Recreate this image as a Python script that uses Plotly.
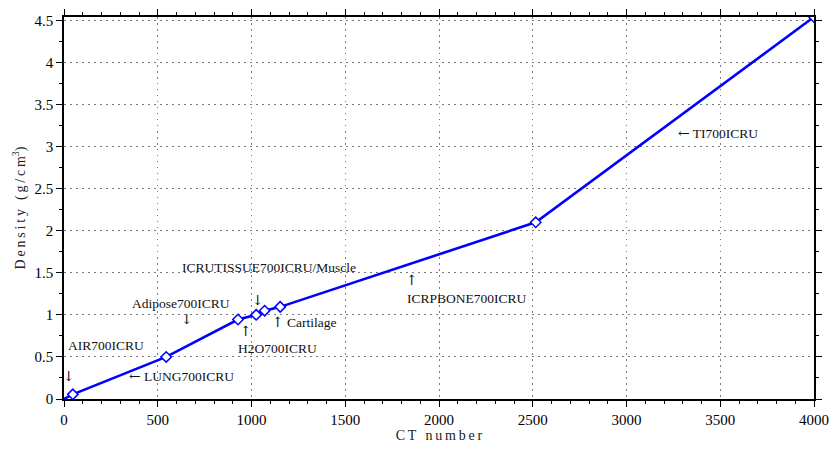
import plotly.graph_objects as go

# Calibration curve: CT number -> density (g/cm3)
ct_number = [0, 47, 545, 928, 1025, 1070, 1153, 2516, 4000]
density = [0.0012, 0.055, 0.50, 0.945, 1.00, 1.05, 1.095, 2.10, 4.54]
marker_ct = ct_number[1:]
marker_density = density[1:]

# Text labels: (arrow prefix, text, CT anchor, density anchor, x-anchor)
label_arrow = ["", "\u2193", "\u2190", "", "\u2193", "", "\u2193", "\u2191", "",
               "\u2191", "\u2191", "", "\u2190"]
label_text = ["AIR700ICRU", "", "LUNG700ICRU", "Adipose700ICRU", "",
              "ICRUTISSUE700ICRU/Muscle", "", "", "H2O700ICRU",
              "Cartilage", "", "ICRPBONE700ICRU", "TI700ICRU"]
label_ct = [8, 27, 334, 353, 657, 620, 1035, 968, 915, 1100, 1856, 1817, 3264]
label_density = [0.63, 0.27, 0.27, 1.13, 0.95, 1.56, 1.18, 0.81, 0.60, 0.92, 1.41, 1.19, 3.16]
label_anchor = ["left", "center", "left", "left", "center", "left", "center", "center",
                "left", "left", "center", "left", "left"]

SERIF = "Liberation Serif"
ARROW_FONT = "DejaVu Serif"
BLUE = "#0000ff"

fig = go.Figure()
fig.add_trace(go.Scatter(x=ct_number, y=density, mode="lines",
                         line=dict(color=BLUE, width=2.6), showlegend=False,
                         hoverinfo="skip"))
fig.add_trace(go.Scatter(x=marker_ct, y=marker_density, mode="markers",
                         marker=dict(symbol="diamond", size=8, color="white",
                                     line=dict(color=BLUE, width=1.5)),
                         showlegend=False))

for a, t, cx, cy, xa in zip(label_arrow, label_text, label_ct, label_density, label_anchor):
    parts = []
    if a:
        parts.append('<span style="font-family:%s;font-size:14px">%s</span>' % (ARROW_FONT, a))
    if t:
        parts.append(t)
    fig.add_annotation(x=cx, y=cy, xref="x", yref="y", text=" ".join(parts),
                       showarrow=False, xanchor=xa, yanchor="middle",
                       font=dict(family=SERIF, size=13.5, color="#111"))

def spaced(s):
    return "\u2009".join(list(s))

axis_common = dict(showline=True, linecolor="black", linewidth=1.5, mirror="ticks",
                   ticks="outside", ticklen=6, tickwidth=1.2, tickcolor="black",
                   showgrid=True, gridcolor="#7a7a7a", griddash="1.5px,4.5px", gridwidth=1,
                   zeroline=False,
                   tickfont=dict(family=SERIF, size=15, color="black"))

fig.update_xaxes(range=[0, 4000], dtick=500, tick0=0,
                 minor=dict(dtick=100, ticks="outside", ticklen=3.5, tickcolor="black",
                            showgrid=False),
                 title=dict(text=spaced("CT number"), standoff=2,
                            font=dict(family=SERIF, size=14, color="#222")),
                 **axis_common)
fig.update_yaxes(range=[0, 4.54], dtick=0.5, tick0=0,
                 minor=dict(dtick=0.25, ticks="outside", ticklen=3.5, tickcolor="black",
                            showgrid=False),
                 title=dict(text=spaced("Density (g/cm") + "<sup>3</sup>)", standoff=6,
                            font=dict(family=SERIF, size=14, color="#222")),
                 **axis_common)

fig.update_layout(width=838, height=450, margin=dict(l=64, r=19, t=9, b=51),
                  plot_bgcolor="white", paper_bgcolor="white")

fig.write_html("out.html")
